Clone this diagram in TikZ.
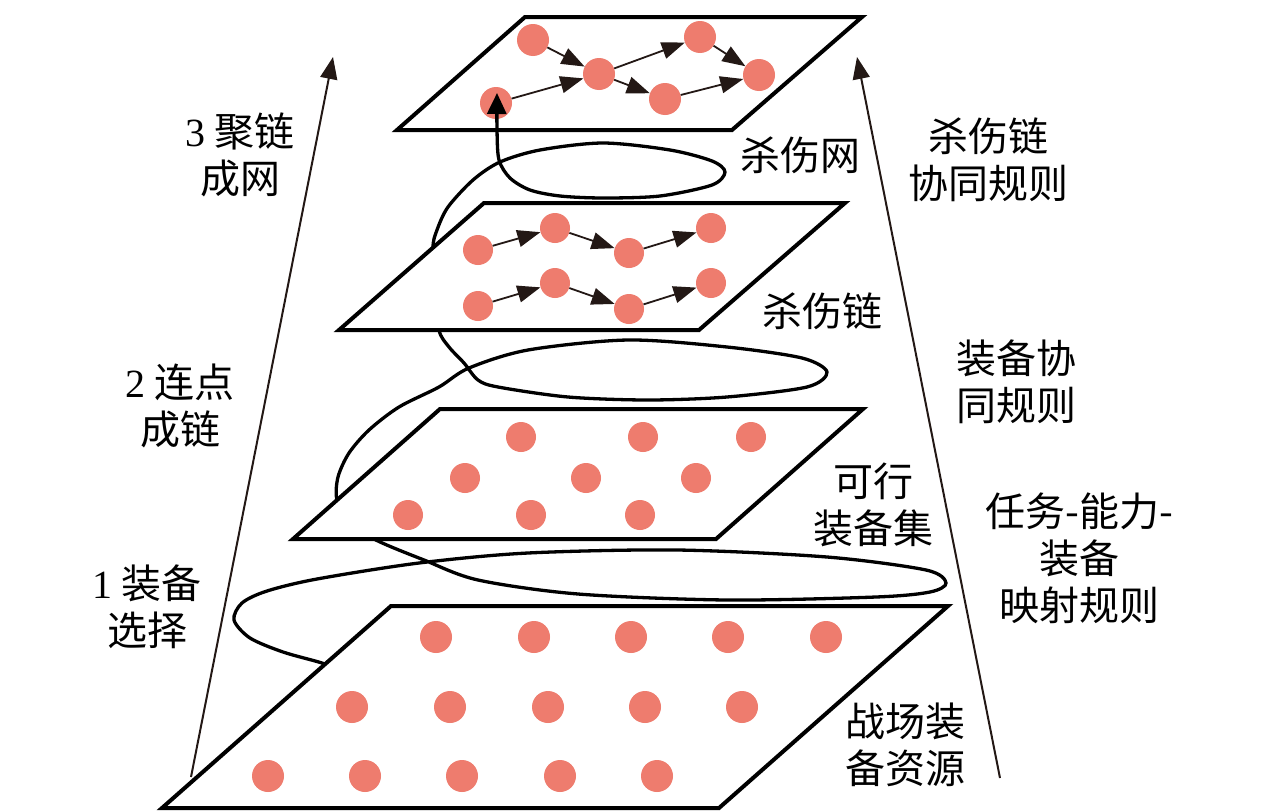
\documentclass[tikz,border=0pt]{standalone}
\usepackage{fontspec}
\setmainfont{Noto Sans CJK SC}
\newfontfamily\tnr{Liberation Serif}
\usetikzlibrary{arrows.meta}
\definecolor{dotc}{RGB}{238,124,110}
\definecolor{ink}{RGB}{35,24,21}
\begin{document}
\begin{tikzpicture}[x=1pt,y=-1pt,
  plane/.style={draw=black,line width=4pt,fill=white,line join=miter},
  dotA/.style={circle,fill=dotc,inner sep=0pt,minimum size=32pt},
  dotB/.style={circle,fill=dotc,inner sep=0pt,minimum size=30pt},
  chain/.style={draw=ink,line width=1.8pt,-{Triangle[length=23pt,width=17pt]}},
  side/.style={draw=ink,line width=2pt,-{Triangle[length=22pt,width=17pt]}},
  spiral/.style={draw=black,line width=3.3pt,line cap=round},
  lab/.style={font=\fontsize{40}{47}\selectfont,align=center,inner sep=0pt}]
\useasboundingbox (0,0) rectangle (1276,811);

% ---- top plane (kill web)
\draw[plane] (525,17) -- (862,17) -- (732,130) -- (397,130) -- cycle;
\node[dotA] (w0) at (496,103) {};
\node[dotA] (w1) at (533,40) {};
\node[dotA] (w2) at (599,74) {};
\node[dotA] (w3) at (665,99) {};
\node[dotA] (w4) at (700,37) {};
\node[dotA] (w5) at (759,75) {};
\draw[chain] (w0) -- (w2);
\draw[chain] (w1) -- (w2);
\draw[chain] (w2) -- (w4);
\draw[chain] (w2) -- (w3);
\draw[chain] (w4) -- (w5);
\draw[chain] (w3) -- (w5);

% ---- spiral
\draw[spiral,-{Triangle[length=21pt,width=19pt]}] plot[smooth,tension=0.5] coordinates {
 (345,672) (322,663) (283,652) (250,638) (234,620) (242,603) (267,591) (317,579)
 (419,563) (528,553) (677,550) (827,557) (926,570) (946,583) (930,592) (876,597)
 (727,600) (578,594) (478,580) (424,560) (374,539) (350,520) (337,500) (338,477)
 (349,453) (369,430) (399,407) (439,387) (469,368) (528,350) (628,340) (727,347)
 (802,358) (827,372) (807,387) (727,397) (648,400) (568,397) (498,387) (478,380)
 (464,363) (449,347) (439,330) (437,290) (433,248) (437,230) (448,207) (473,180)
 (500,162) (540,150) (603,143) (670,150) (712,161) (725,172) (712,185) (660,196)
 (603,198) (560,196) (530,190) (510,178) (499,160) (497,130) (497,93)};

% ---- bottom plane (battlefield resources)
\draw[plane] (391,606) -- (948,606) -- (719,808) -- (162,808) -- cycle;
\foreach \x [count=\i] in {436,534,631,728,826} \node[dotA] (a1\i) at (\x,637) {};
\foreach \x [count=\i] in {352,450,548,645,742} \node[dotA] (a2\i) at (\x,707) {};
\foreach \x [count=\i] in {268,365,462,560,657} \node[dotA] (a3\i) at (\x,776) {};

% ---- feasible set plane
\draw[plane] (440,409) -- (863,409) -- (716,539) -- (293,539) -- cycle;
\foreach \x [count=\i] in {521,643,751} \node[dotB] (b1\i) at (\x,437) {};
\foreach \x [count=\i] in {465,586,696} \node[dotB] (b2\i) at (\x,478) {};
\foreach \x [count=\i] in {408,531,640} \node[dotB] (b3\i) at (\x,515) {};

% ---- kill chain plane
\draw[plane] (484,203) -- (845,203) -- (699,330) -- (339,330) -- cycle;
\node[dotB] (k11) at (478,250) {};
\node[dotB] (k12) at (555,228) {};
\node[dotB] (k13) at (629,253) {};
\node[dotB] (k14) at (711,228) {};
\node[dotB] (k21) at (478,306) {};
\node[dotB] (k22) at (555,283) {};
\node[dotB] (k23) at (629,309) {};
\node[dotB] (k24) at (711,283) {};
\draw[chain] (k11) -- (k12);
\draw[chain] (k12) -- (k13);
\draw[chain] (k13) -- (k14);
\draw[chain] (k21) -- (k22);
\draw[chain] (k22) -- (k23);
\draw[chain] (k23) -- (k24);

% ---- side arrows
\coordinate (la0) at (191,777);
\coordinate (la1) at (333,57);
\coordinate (ra0) at (1000,778);
\coordinate (ra1) at (857,57);
\draw[side] (la0) -- (la1);
\draw[side] (ra0) -- (ra1);

% ---- labels
\node[lab] (l3) at (240,155) {{\tnr 3} 聚链\\成网};
\node[lab] (l2) at (180,406) {{\tnr 2} 连点\\成链};
\node[lab] (l1) at (147,607) {{\tnr 1} 装备\\选择};
\node[lab] (r1) at (988,160) {杀伤链\\协同规则};
\node[lab] (r2) at (1016,382) {装备协\\同规则};
\node[lab] (r3) at (1079,558) {任务-能力-\\装备\\映射规则};
\node[lab] (t4) at (800,155) {杀伤网};
\node[lab] (t3) at (822,311) {杀伤链};
\node[lab] (t2) at (873,505) {可行\\装备集};
\node[lab] (t1) at (905,745) {战场装\\备资源};
\end{tikzpicture}
\end{document}
